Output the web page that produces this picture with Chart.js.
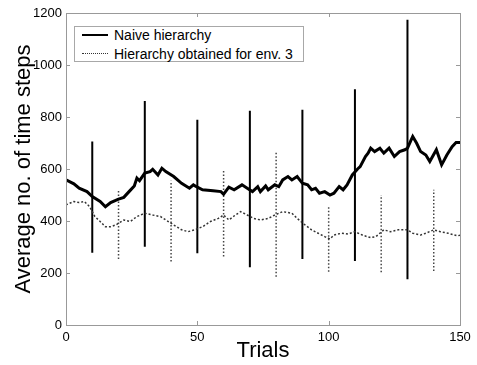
<!DOCTYPE html>
<html>
<head>
<meta charset="utf-8">
<script src="https://cdn.jsdelivr.net/npm/chart.js@4/dist/chart.umd.min.js"></script>
<style>
    body { margin: 0; background: #fff; }
    #wrap { position: relative; width: 477px; height: 365px; font-family: "Liberation Sans", Arial, Helvetica, sans-serif; }
    #legendBox { position: absolute; left: 74px; top: 26px; width: 228px; height: 34px; border: 1px solid #a8a8a8; background: #fff; }
    .lg-line { position: absolute; left: 7px; width: 26px; height: 0; }
    .lg-text { position: absolute; left: 39px; font-size: 14px; line-height: 16px; color: #000; white-space: nowrap; }
</style>
</head>
<body>
<div id="wrap">
    <canvas id="trialChart" width="477" height="365"></canvas>
    <div id="legendBox">
        <div class="lg-line" style="top:7px;border-top:2.5px solid #000;"></div>
        <div class="lg-text" style="top:0px;">Naive hierarchy</div>
        <div class="lg-line" style="top:26px;border-top:1.5px dotted #333;"></div>
        <div class="lg-text" style="top:19px;">Hierarchy obtained for env. 3</div>
    </div>
</div>
<script>
// 曲线数据
const naiveTrials = [0, 3, 5, 8, 10, 13, 15, 17, 20, 22, 24, 26, 27, 28, 30, 32, 33, 35, 36.5, 38,
    41, 44, 47, 48.5, 50, 52, 56, 59, 60, 62, 64, 67, 69, 71, 73, 74, 76, 77, 79.5, 81,
    82.5, 84.5, 86, 88, 90, 92, 93.5, 95, 96.5, 98.5, 100.5, 102, 104, 105.5, 107, 109, 111, 112, 114, 115,
    116, 117.5, 119.5, 121, 123, 125, 127, 129, 130, 132, 133.5, 135, 137, 138.5, 141, 143, 145, 147, 148.5, 150];
const naiveSteps = [558, 543, 526, 513, 494, 475, 455, 471, 484, 491, 513, 535, 565, 555, 584, 590, 599, 577, 603, 590,
    571, 545, 526, 539, 530, 520, 516, 513, 503, 530, 520, 539, 526, 513, 532, 513, 535, 520, 539, 532,
    558, 571, 558, 571, 545, 539, 520, 526, 507, 513, 500, 507, 532, 520, 539, 577, 600, 609, 648, 661,
    680, 667, 680, 661, 680, 648, 667, 674, 680, 725, 699, 667, 654, 629, 674, 616, 654, 686, 702, 702];

const env3Trials = [0, 3, 5, 7, 9, 11, 13, 15, 17, 19, 22, 24.5, 27, 30, 33, 36, 38, 41, 44, 46.5,
    49, 52, 55, 58, 60, 62, 64.5, 66.5, 69, 71.5, 74, 77, 79.5, 82.5, 86, 88, 91, 93.5, 96, 98.5,
    100.5, 102, 105, 107.5, 110, 113, 116, 118, 121, 123.5, 126.5, 130, 132, 135, 137, 140, 142.5, 145.5, 149, 150];
const env3Steps = [462, 475, 471, 475, 455, 417, 398, 378, 378, 385, 404, 398, 417, 430, 423, 417, 404, 385, 366, 359,
    366, 378, 398, 410, 423, 404, 423, 436, 423, 410, 404, 410, 423, 436, 430, 410, 385, 366, 353, 340,
    331, 346, 353, 350, 359, 345, 336, 340, 366, 359, 366, 366, 353, 346, 353, 366, 359, 353, 343, 345];

// 误差线
const naiveBarX = [10, 30, 50, 70, 90, 110, 130];
const naiveBarLow = [278, 301, 276, 222, 254, 246, 176];
const naiveBarHigh = [706, 862, 789, 824, 828, 907, 1174];
const env3BarX = [20, 40, 60, 80, 100, 120, 140];
const env3BarLow = [254, 244, 263, 186, 205, 203, 208];
const env3BarHigh = [522, 555, 593, 667, 455, 500, 520];

// 坐标轴刻度
const xTicks = [0, 50, 100, 150];
const yTicks = [0, 200, 400, 600, 800, 1000, 1200];

const FONT = '"Liberation Sans", Arial, Helvetica, sans-serif';

function toPoints(xs, ys) {
    return xs.map((x, i) => ({ x: x, y: ys[i] }));
}

function toBars(xs, lows, highs) {
    const pts = [];
    xs.forEach((x, i) => {
        pts.push({ x: x, y: lows[i] });
        pts.push({ x: x, y: highs[i] });
        pts.push({ x: x, y: null });
    });
    return pts;
}

// 边框和朝内的刻度线
const frameTicks = {
    id: 'frameTicks',
    afterDraw(chart) {
        const { ctx, chartArea: a, scales } = chart;
        ctx.save();
        ctx.strokeStyle = '#999';
        ctx.lineWidth = 1;
        ctx.beginPath();
        xTicks.forEach(v => {
            const px = Math.round(scales.x.getPixelForValue(v)) + 0.5;
            ctx.moveTo(px, a.bottom); ctx.lineTo(px, a.bottom - 4);
            ctx.moveTo(px, a.top); ctx.lineTo(px, a.top + 4);
        });
        yTicks.forEach(v => {
            const py = Math.round(scales.y.getPixelForValue(v)) + 0.5;
            ctx.moveTo(a.left, py); ctx.lineTo(a.left + 4, py);
            ctx.moveTo(a.right, py); ctx.lineTo(a.right - 4, py);
        });
        ctx.stroke();
        ctx.strokeRect(Math.round(a.left) + 0.5, Math.round(a.top) + 0.5,
            Math.round(a.right - a.left), Math.round(a.bottom - a.top));
        ctx.restore();
    }
};

const chart = new Chart(document.getElementById('trialChart'), {
    type: 'scatter',
    data: {
        datasets: [
            {
                label: 'Naive hierarchy',
                data: toPoints(naiveTrials, naiveSteps),
                showLine: true,
                borderColor: '#000',
                borderWidth: 3,
                pointRadius: 0,
                tension: 0
            },
            {
                label: 'Hierarchy obtained for env. 3',
                data: toPoints(env3Trials, env3Steps),
                showLine: true,
                borderColor: '#333',
                borderWidth: 1.5,
                borderDash: [2, 2],
                pointRadius: 0,
                tension: 0
            },
            {
                label: 'naive bars',
                data: toBars(naiveBarX, naiveBarLow, naiveBarHigh),
                showLine: true,
                spanGaps: false,
                borderColor: '#000',
                borderWidth: 2,
                pointRadius: 0
            },
            {
                label: 'env3 bars',
                data: toBars(env3BarX, env3BarLow, env3BarHigh),
                showLine: true,
                spanGaps: false,
                borderColor: '#444',
                borderWidth: 1.5,
                borderDash: [1.5, 2],
                pointRadius: 0
            }
        ]
    },
    options: {
        responsive: false,
        animation: false,
        layout: { padding: { top: 13, right: 17, left: 0, bottom: 0 } },
        plugins: {
            legend: { display: false },
            tooltip: { enabled: false }
        },
        scales: {
            x: {
                type: 'linear',
                min: 0,
                max: 150,
                afterFit: s => { s.height = 40; },
                afterBuildTicks: s => { s.ticks = xTicks.map(v => ({ value: v })); },
                grid: { display: false, drawTicks: false },
                border: { display: false },
                ticks: { color: '#000', padding: 5, maxRotation: 0, font: { family: FONT, size: 13 }, callback: v => String(v) },
                title: { display: true, text: 'Trials', color: '#000', padding: { top: 0, bottom: 1 }, font: { family: FONT, size: 22 } }
            },
            y: {
                min: 0,
                max: 1200,
                afterFit: s => { s.width = 66; },
                afterBuildTicks: s => { s.ticks = yTicks.map(v => ({ value: v })); },
                grid: { display: false, drawTicks: false },
                border: { display: false },
                ticks: { color: '#000', padding: 4, font: { family: FONT, size: 13 }, callback: v => String(v) },
                title: { display: true, text: 'Average no. of time steps', color: '#000', padding: { top: 11, bottom: 0 }, font: { family: FONT, size: 22 } }
            }
        }
    },
    plugins: [frameTicks]
});
</script>
</body>
</html>
